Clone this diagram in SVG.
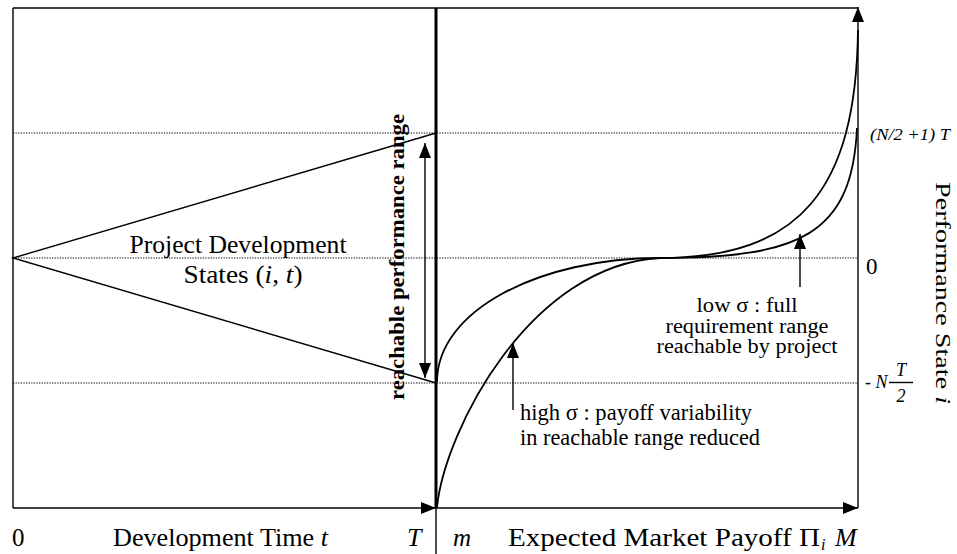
<svg xmlns="http://www.w3.org/2000/svg" width="957" height="554" viewBox="0 0 957 554">
<style>
.t{font-family:"Liberation Serif","Times New Roman",serif;fill:#000}
.it{font-style:italic}
.ln{stroke:#000;fill:none;stroke-width:1.4}
.dot{stroke:#000;fill:none;stroke-width:1.1;stroke-dasharray:1.3,1.3}
.cv{stroke:#000;fill:none;stroke-width:1.8}
</style>
<defs>
<marker id="ah" markerUnits="userSpaceOnUse" markerWidth="15" markerHeight="12" refX="15" refY="6" orient="auto">
<path d="M0,0 L15,6 L0,12 z" fill="#000"/>
</marker>
<marker id="ahs" markerUnits="userSpaceOnUse" markerWidth="15" markerHeight="12" refX="0" refY="6" orient="auto">
<path d="M15,0 L0,6 L15,12 z" fill="#000"/>
</marker>
</defs>
<rect width="957" height="554" fill="#fff"/>

<g id="grid">
<line class="dot" x1="13" y1="133" x2="858" y2="133"/>
<line class="dot" x1="13" y1="258" x2="858" y2="258"/>
<line class="dot" x1="13" y1="383" x2="858" y2="383"/>
</g>

<g id="frame">
<line class="ln" x1="13" y1="8" x2="13" y2="508" stroke-width="1.6"/>
<line class="ln" x1="13" y1="8" x2="858" y2="8" stroke-width="1.4"/>
<line x1="436" y1="8" x2="436" y2="508" stroke="#000" stroke-width="3"/>
<line class="ln" x1="436" y1="508" x2="436" y2="554" stroke-width="1.2"/>
</g>

<g id="connectors">
<line class="ln" x1="13" y1="508" x2="436" y2="508" stroke-width="1.6" marker-end="url(#ah)"/>
<line class="ln" x1="436" y1="508" x2="858" y2="508" stroke-width="1.6" marker-end="url(#ah)"/>
<line class="ln" x1="858" y1="508" x2="858" y2="7" stroke-width="1.4" marker-end="url(#ah)"/>
<line class="ln" x1="425" y1="143" x2="425" y2="378" stroke-width="1.6" marker-start="url(#ahs)" marker-end="url(#ah)"/>
<line class="ln" x1="513" y1="410" x2="513" y2="343" stroke-width="1.6" marker-end="url(#ah)"/>
<line class="ln" x1="800" y1="287" x2="800" y2="234" stroke-width="1.6" marker-end="url(#ah)"/>
</g>

<g id="triangle">
<polyline class="ln" points="436,133 13,258 436,383" stroke-width="1.6"/>
</g>

<g id="curve-low-sigma">
<path class="cv" d="M437,382 C437,310 540,258 660,258 C800,258 852,235 857,128"/>
</g>
<g id="curve-high-sigma">
<path class="cv" d="M437,507 C445,430 530,265 660,258 C800,258 856,190 858,30"/>
</g>

<g id="label-states">
<text class="t" x="238" y="253" font-size="26" text-anchor="middle" textLength="217" lengthAdjust="spacingAndGlyphs">Project Development</text>
<text class="t" x="243" y="283" font-size="26" text-anchor="middle" textLength="119" lengthAdjust="spacingAndGlyphs">States (<tspan class="it">i</tspan>, <tspan class="it">t</tspan>)</text>
</g>

<g id="label-range">
<text class="t" transform="translate(404,257) rotate(-90)" font-size="21" font-weight="bold" text-anchor="middle" textLength="286" lengthAdjust="spacingAndGlyphs">reachable performance range</text>
</g>

<g id="label-low">
<text class="t" x="747" y="312" font-size="20.5" text-anchor="middle" textLength="101" lengthAdjust="spacingAndGlyphs">low σ : full</text>
<text class="t" x="747" y="332.5" font-size="20.5" text-anchor="middle" textLength="163" lengthAdjust="spacingAndGlyphs">requirement range</text>
<text class="t" x="747" y="353" font-size="20.5" text-anchor="middle" textLength="181" lengthAdjust="spacingAndGlyphs">reachable by project</text>
</g>

<g id="label-high">
<text class="t" x="520" y="420" font-size="23" textLength="232" lengthAdjust="spacingAndGlyphs">high σ : payoff variability</text>
<text class="t" x="520" y="445" font-size="23" textLength="240" lengthAdjust="spacingAndGlyphs">in reachable range reduced</text>
</g>

<g id="axis-labels">
<text class="t it" x="870" y="140" font-size="17" textLength="80" lengthAdjust="spacingAndGlyphs">(N/2 +1) T</text>
<text class="t" x="866" y="274" font-size="23">0</text>
<text class="t" x="865" y="388" font-size="18">- <tspan class="it">N</tspan></text>
<text class="t it" x="901" y="376" font-size="18" text-anchor="middle">T</text>
<line class="ln" x1="889" y1="382.5" x2="913" y2="382.5" stroke-width="1.1"/>
<text class="t it" x="901" y="402" font-size="18" text-anchor="middle">2</text>
<text class="t" transform="translate(936,293) rotate(90)" font-size="22" text-anchor="middle" textLength="222" lengthAdjust="spacingAndGlyphs">Performance State <tspan class="it">i</tspan></text>
<text class="t" x="12" y="546" font-size="25">0</text>
<text class="t" x="113" y="546" font-size="26" textLength="215" lengthAdjust="spacingAndGlyphs">Development Time <tspan class="it">t</tspan></text>
<text class="t it" x="407" y="546" font-size="26">T</text>
<text class="t it" x="453" y="546" font-size="25">m</text>
<text class="t" x="508" y="546" font-size="26" textLength="312" lengthAdjust="spacingAndGlyphs">Expected Market Payoff Π</text>
<text class="t it" x="821" y="550" font-size="16">i</text>
<text class="t it" x="835" y="546" font-size="26">M</text>
</g>
</svg>
